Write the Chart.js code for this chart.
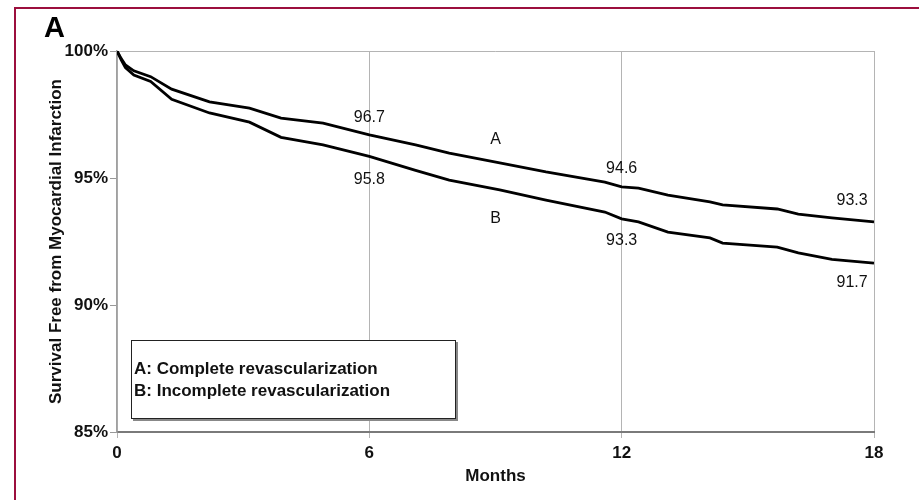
<!DOCTYPE html>
<html>
<head>
<meta charset="utf-8">
<script src="https://cdn.jsdelivr.net/npm/chart.js@4.4.1/dist/chart.umd.min.js"></script>
<style>
    html, body {
        margin: 0;
        padding: 0;
        background: #fff;
    }
    #wrap {
        position: relative;
        width: 919px;
        height: 500px;
        overflow: hidden;
        font-family: "Liberation Sans", Arial, sans-serif;
    }
    #frame {
        position: absolute;
        left: 14px;
        top: 7px;
        width: 920px;
        height: 520px;
        border-left: 2px solid #9c0f3d;
        border-top: 2px solid #9c0f3d;
        pointer-events: none;
    }
    #panel {
        position: absolute;
        left: 44px;
        top: 13px;
        font-size: 29px;
        font-weight: bold;
        line-height: 28px;
        color: #000;
    }
    #key {
        position: absolute;
        left: 131px;
        top: 340px;
        width: 325px;
        height: 79px;
        border: 1.5px solid #222;
        box-shadow: 2px 2px 0 #888;
        background: #fff;
        font-size: 17px;
        font-weight: bold;
        color: #111;
        box-sizing: border-box;
        padding: 17px 0 0 2px;
        line-height: 22px;
    }
    canvas {
        position: absolute;
        left: 0;
        top: 0;
    }
</style>
</head>
<body>
<div id="wrap">
    <canvas id="chart" width="919" height="500"></canvas>
    <div id="frame"></div>
    <div id="panel">A</div>
    <div id="key">A: Complete revascularization<br>B: Incomplete revascularization</div>
</div>
<script>
// months since procedure
const months = [0, 0.1, 0.2, 0.4, 0.8, 1.3, 2.2, 3.15, 3.9, 4.9, 6, 7.1, 7.9, 9.1, 10.2, 11.6, 12, 12.4, 13.1, 14.1, 14.4, 15.7, 16.2, 17, 18];
// A: complete revascularization (%)
const completeRevasc = [100, 99.7, 99.45, 99.22, 98.99, 98.5, 98.0, 97.75, 97.36, 97.16, 96.7, 96.3, 95.98, 95.6, 95.24, 94.84, 94.65, 94.6, 94.33, 94.06, 93.94, 93.78, 93.58, 93.43, 93.27];
// B: incomplete revascularization (%)
const incompleteRevasc = [100, 99.65, 99.35, 99.05, 98.8, 98.1, 97.56, 97.2, 96.6, 96.3, 95.85, 95.3, 94.92, 94.53, 94.13, 93.66, 93.39, 93.27, 92.87, 92.64, 92.44, 92.28, 92.05, 91.8, 91.65];

const xTicks = [0, 6, 12, 18];
const yTicks = [85, 90, 95, 100];

// text annotations: [text, month, percent, alignment]
const notes = [
    ['96.7', 6, 97.36, 'center'],
    ['95.8', 6, 94.92, 'center'],
    ['A', 9.0, 96.5, 'center'],
    ['B', 9.0, 93.39, 'center'],
    ['94.6', 12, 95.39, 'center'],
    ['93.3', 12, 92.52, 'center'],
    ['93.3', 17.85, 94.13, 'right'],
    ['91.7', 17.85, 90.87, 'right']
];

const toPoints = values => months.map((m, i) => ({ x: m, y: values[i] }));

const notesPlugin = {
    id: 'notes',
    afterDatasetsDraw(chart) {
        const { ctx, scales } = chart;
        ctx.save();
        ctx.font = '16px "Liberation Sans", Arial, sans-serif';
        ctx.fillStyle = '#111';
        ctx.textBaseline = 'middle';
        notes.forEach(([text, m, v, align]) => {
            ctx.textAlign = align;
            ctx.fillText(text, scales.x.getPixelForValue(m), scales.y.getPixelForValue(v));
        });
        ctx.restore();
    }
};

const lineStyle = {
    borderColor: '#000',
    borderWidth: 2.8,
    pointRadius: 0,
    tension: 0,
    fill: false
};

new Chart(document.getElementById('chart'), {
    type: 'line',
    data: {
        datasets: [
            { label: 'A: Complete revascularization', data: toPoints(completeRevasc), ...lineStyle },
            { label: 'B: Incomplete revascularization', data: toPoints(incompleteRevasc), ...lineStyle }
        ]
    },
    options: {
        responsive: false,
        animation: false,
        layout: { padding: { left: 0, top: 51, right: 45, bottom: 0 } },
        plugins: {
            legend: { display: false },
            tooltip: { enabled: false }
        },
        scales: {
            x: {
                type: 'linear',
                min: 0,
                max: 18,
                afterBuildTicks: scale => { scale.ticks = xTicks.map(v => ({ value: v })); },
                afterFit: scale => { scale.height = 68; },
                ticks: {
                    color: '#111',
                    font: { family: '"Liberation Sans", Arial, sans-serif', size: 17, weight: 'bold' },
                    padding: 5,
                    maxRotation: 0
                },
                grid: {
                    color: '#b4b4b4',
                    lineWidth: 1,
                    tickLength: 6,
                    tickColor: '#b4b4b4'
                },
                border: { color: '#7a7a7a', width: 2 },
                title: {
                    display: true,
                    text: 'Months',
                    color: '#111',
                    font: { family: '"Liberation Sans", Arial, sans-serif', size: 17, weight: 'bold' },
                    padding: { top: 0, bottom: 13 }
                }
            },
            y: {
                min: 85,
                max: 100,
                afterBuildTicks: scale => { scale.ticks = yTicks.map(v => ({ value: v })); },
                afterFit: scale => { scale.width = 117; },
                ticks: {
                    color: '#111',
                    font: { family: '"Liberation Sans", Arial, sans-serif', size: 17, weight: 'bold' },
                    padding: 2,
                    callback: v => v + '%'
                },
                grid: {
                    color: ctx => (ctx.tick && ctx.tick.value === 100 ? '#b4b4b4' : 'rgba(0,0,0,0)'),
                    lineWidth: 1,
                    tickLength: 7,
                    tickColor: '#999'
                },
                border: { color: '#a0a0a0', width: 1.5 },
                title: {
                    display: true,
                    text: 'Survival Free from Myocardial Infarction',
                    color: '#111',
                    font: { family: '"Liberation Sans", Arial, sans-serif', size: 17, weight: 'bold' },
                    padding: { top: 46, bottom: 0 }
                }
            }
        }
    },
    plugins: [notesPlugin]
});
</script>
</body>
</html>
